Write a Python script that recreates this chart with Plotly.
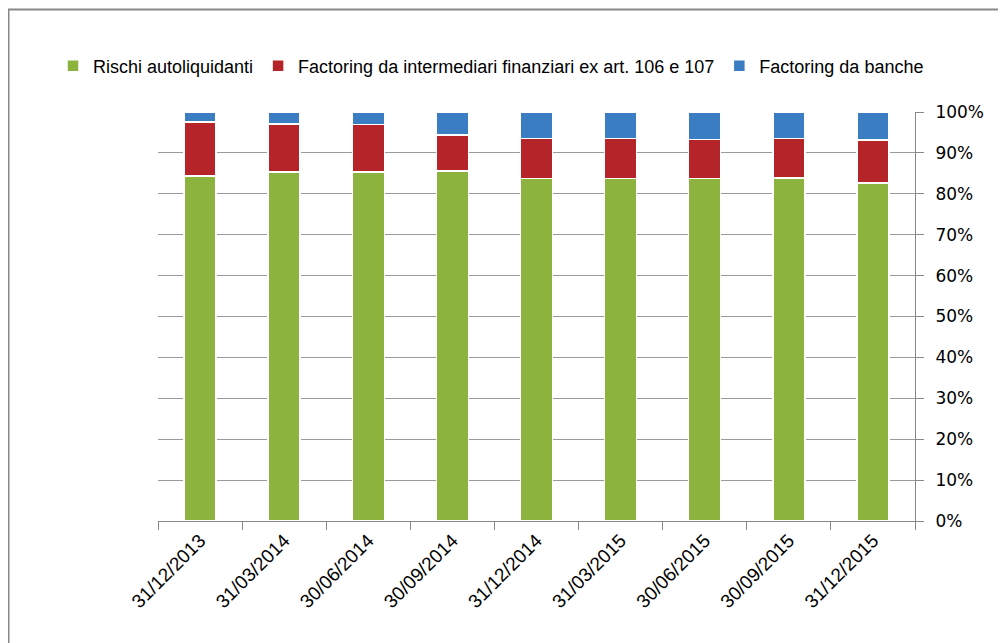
import plotly.graph_objects as go

dates = ["31/12/2013", "31/03/2014", "30/06/2014", "30/09/2014", "31/12/2014",
         "31/03/2015", "30/06/2015", "30/09/2015", "31/12/2015"]
rischi = [84.3, 85.3, 85.3, 85.6, 83.7, 83.7, 83.7, 83.9, 82.6]
factoring_intermediari = [13.2, 11.8, 11.6, 8.8, 9.8, 9.8, 9.6, 9.6, 10.5]
factoring_banche = [2.5, 2.9, 3.1, 5.6, 6.5, 6.5, 6.7, 6.5, 6.9]

series = [
    ("Rischi autoliquidanti", rischi, "#8DB33F"),
    ("Factoring da intermediari finanziari ex art. 106 e 107", factoring_intermediari, "#B42428"),
    ("Factoring da banche", factoring_banche, "#3B7DC2"),
]

# page offset (body margin) and plot area in page pixels
OFF = 8
W, H = 1006, 643
PL, PR, PT, PB = 158, 915, 112, 521
L, T = PL - OFF, PT - OFF
R, B = W - (PR - OFF), H - (PB - OFF)
pw, ph = PR - PL, PB - PT


def px_x(p):
    return (p - PL) / pw


def px_y(p):
    return (PB - p) / ph


fig = go.Figure()
for name, vals, col in series:
    fig.add_trace(go.Bar(
        x=dates, y=vals, name=name,
        marker=dict(color=col, line=dict(color="white", width=1.5)),
    ))

fig.update_layout(
    barmode="stack",
    bargap=0.62,
    width=W, height=H,
    margin=dict(l=L, r=R, t=T, b=B, autoexpand=False),
    paper_bgcolor="white",
    plot_bgcolor="white",
    font=dict(family="Liberation Sans", color="black"),
    legend=dict(
        orientation="h", x=px_x(53), xanchor="left", y=px_y(66), yanchor="middle",
        font=dict(size=18), itemwidth=30, traceorder="normal",
    ),
    xaxis=dict(
        tickangle=-45, tickfont=dict(size=19, family="Liberation Sans"),
        showline=True, linecolor="#888888", linewidth=1,
        ticks="outside", tickson="boundaries", ticklen=8, tickcolor="#888888",
        showgrid=False, automargin=False,
    ),
    yaxis=dict(
        side="right", range=[0, 100], dtick=10, ticksuffix="%",
        tickfont=dict(size=17, family="DejaVu Sans"),
        showline=True, linecolor="#888888", linewidth=1,
        ticks="outside", ticklen=8, tickcolor="#888888",
        ticklabelstandoff=8,
        showgrid=True, gridcolor="#9A9A9A", gridwidth=1,
        zeroline=False, automargin=False,
    ),
    shapes=[dict(
        type="rect", xref="paper", yref="paper",
        x0=px_x(8.5), x1=px_x(1030), y0=px_y(670), y1=px_y(9.5),
        line=dict(color="#888888", width=2), layer="below",
    )],
)

fig.write_html("out.html")
